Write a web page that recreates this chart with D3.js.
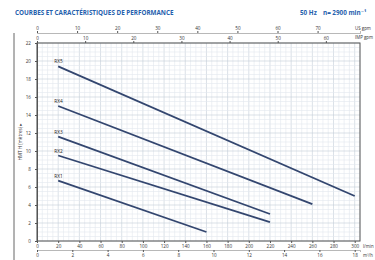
<!DOCTYPE html>
<html>
<head>
<meta charset="utf-8">
<script src="https://cdn.jsdelivr.net/npm/d3@7"></script>
<style>
  body { margin: 0; background: #fff; }
  text { font-family: "Open Sans", "DejaVu Sans", sans-serif; }
</style>
</head>
<body>
<svg id="chart" width="375" height="260"></svg>
<script>
// pump curves, Q in l/min, H in metres
const models = ["RX1", "RX2", "RX3", "RX4", "RX5"];
const flowStart = [20, 20, 20, 20, 20];
const flowEnd = [160, 220, 220, 260, 300];
const headStart = [6.7, 9.5, 11.6, 15.0, 19.4];
const headEnd = [1.0, 2.1, 3.0, 4.1, 5.0];

const lpmTicks = [0, 20, 40, 60, 80, 100, 120, 140, 160, 180, 200, 220, 240, 260, 280, 300];
const m3hTicks = [0, 2, 4, 6, 8, 10, 12, 14, 16, 18];
const usTicks = [0, 10, 20, 30, 40, 50, 60, 70];
const impTicks = [0, 10, 20, 30, 40, 50, 60];
const hTicks = [0, 2, 4, 6, 8, 10, 12, 14, 16, 18, 20, 22];

let svg = d3.select("#chart");

let pLeft = 37, pRight = 360, pTop = 43, pBottom = 241;
const qMax = 305;

let x = d3.scaleLinear().domain([0, qMax]).range([pLeft, pRight]);
let y = d3.scaleLinear().domain([0, 22]).range([pBottom, pTop]);
// other flow units on the same pixels
let xUs = d3.scaleLinear().domain([0, qMax / 3.785]).range([pLeft, pRight]);
let xImp = d3.scaleLinear().domain([0, qMax / 4.546]).range([pLeft, pRight]);
let xM3 = d3.scaleLinear().domain([0, qMax / 16.667]).range([pLeft, pRight]);

// title
svg.append("text")
    .attr("x", 15).attr("y", 15)
    .attr("font-size", 6.3).attr("font-weight", "bold")
    .attr("fill", "#2560ad")
    .text("COURBES ET CARACTÉRISTIQUES DE PERFORMANCE");
svg.append("text")
    .attr("x", 300).attr("y", 15)
    .attr("font-size", 6.3).attr("font-weight", "bold")
    .attr("fill", "#2560ad")
    .text("50 Hz");
svg.append("text")
    .attr("x", 323).attr("y", 15)
    .attr("font-size", 6.3).attr("font-weight", "bold")
    .attr("fill", "#2560ad")
    .text("n= 2900 min⁻¹");

// left frame line
svg.append("line")
    .attr("x1", 14).attr("x2", 14).attr("y1", 33).attr("y2", 260)
    .attr("stroke", "#666").attr("stroke-width", 1);

// grid
let grid = svg.append("g");
grid.selectAll(".vx").data(d3.range(0, qMax + 0.1, 5))
    .join("line")
    .attr("x1", d => x(d)).attr("x2", d => x(d))
    .attr("y1", pTop).attr("y2", pBottom)
    .attr("stroke", d => d % 20 === 0 ? "#c3ccd6" : "#e3e8ee")
    .attr("stroke-width", 0.6);
grid.selectAll(".hy").data(d3.range(0, 22.01, 0.5))
    .join("line")
    .attr("x1", pLeft).attr("x2", pRight)
    .attr("y1", d => y(d)).attr("y2", d => y(d))
    .attr("stroke", d => d % 2 === 0 ? "#c3ccd6" : "#e3e8ee")
    .attr("stroke-width", 0.6);

// plot frame
svg.append("rect")
    .attr("x", pLeft).attr("y", pTop)
    .attr("width", pRight - pLeft).attr("height", pBottom - pTop)
    .attr("fill", "none").attr("stroke", "#555").attr("stroke-width", 1);

function styleAxis(g) {
    g.select(".domain").attr("stroke", "#555");
    g.selectAll(".tick line").attr("stroke", "#555");
    g.selectAll(".tick text").attr("font-size", 4.6).attr("fill", "#333")
        .attr("font-family", "'Open Sans', sans-serif");
}

// left axis H
svg.append("g")
    .attr("transform", `translate(${pLeft},0)`)
    .call(d3.axisLeft(y).tickValues(hTicks).tickSize(2).tickPadding(4))
    .call(styleAxis);

// bottom l/min
svg.append("g")
    .attr("transform", `translate(0,${pBottom})`)
    .call(d3.axisBottom(x).tickValues(lpmTicks).tickSize(2).tickPadding(1.5))
    .call(styleAxis)
    .call(g => g.select(".domain").remove());

// bottom m3/h
svg.append("g")
    .attr("transform", `translate(0,${pBottom + 9})`)
    .call(d3.axisBottom(xM3).tickValues(m3hTicks).tickSize(2).tickPadding(1.5))
    .call(styleAxis)
    .call(g => g.select(".domain").attr("stroke", "#888").attr("stroke-width", 0.6));

// top US gpm
svg.append("g")
    .attr("transform", `translate(0,33)`)
    .call(d3.axisTop(xUs).tickValues(usTicks).tickSize(2).tickPadding(1.5))
    .call(styleAxis)
    .call(g => g.select(".domain").attr("stroke", "#888").attr("stroke-width", 0.6));

// top IMP gpm
svg.append("g")
    .attr("transform", `translate(0,${pTop})`)
    .call(d3.axisTop(xImp).tickValues(impTicks).tickSize(2).tickPadding(1.5))
    .call(styleAxis)
    .call(g => g.select(".domain").remove());

// unit labels
const units = [
    {t: "US gpm", x: 355, y: 30},
    {t: "IMP gpm", x: 355, y: 39},
    {t: "l/min", x: 363, y: 248},
    {t: "m³/h", x: 363, y: 257}
];
svg.selectAll(".unit").data(units).join("text")
    .attr("x", d => d.x).attr("y", d => d.y)
    .attr("font-size", 4.4).attr("fill", "#333")
    .text(d => d.t);

// y title
svg.append("text")
    .attr("transform", `translate(22,${y(11)}) rotate(-90)`)
    .attr("text-anchor", "middle")
    .attr("font-size", 4.6).attr("fill", "#333")
    .text("HMT H (mètres)  ▸");

// curves
let curves = models.map((m, i) => ({
    name: m,
    pts: [[flowStart[i], headStart[i]], [flowEnd[i], headEnd[i]]]
}));

let line = d3.line().x(d => x(d[0])).y(d => y(d[1]));

svg.selectAll(".curve").data(curves).join("path")
    .attr("d", d => line(d.pts))
    .attr("fill", "none")
    .attr("stroke", "#33466f")
    .attr("stroke-width", 1.8);

svg.selectAll(".lbl").data(curves).join("text")
    .attr("x", d => x(d.pts[0][0]) - 4)
    .attr("y", d => y(d.pts[0][1]) - 3)
    .attr("font-size", 4.8).attr("fill", "#222")
    .text(d => d.name);
</script>
</body>
</html>
